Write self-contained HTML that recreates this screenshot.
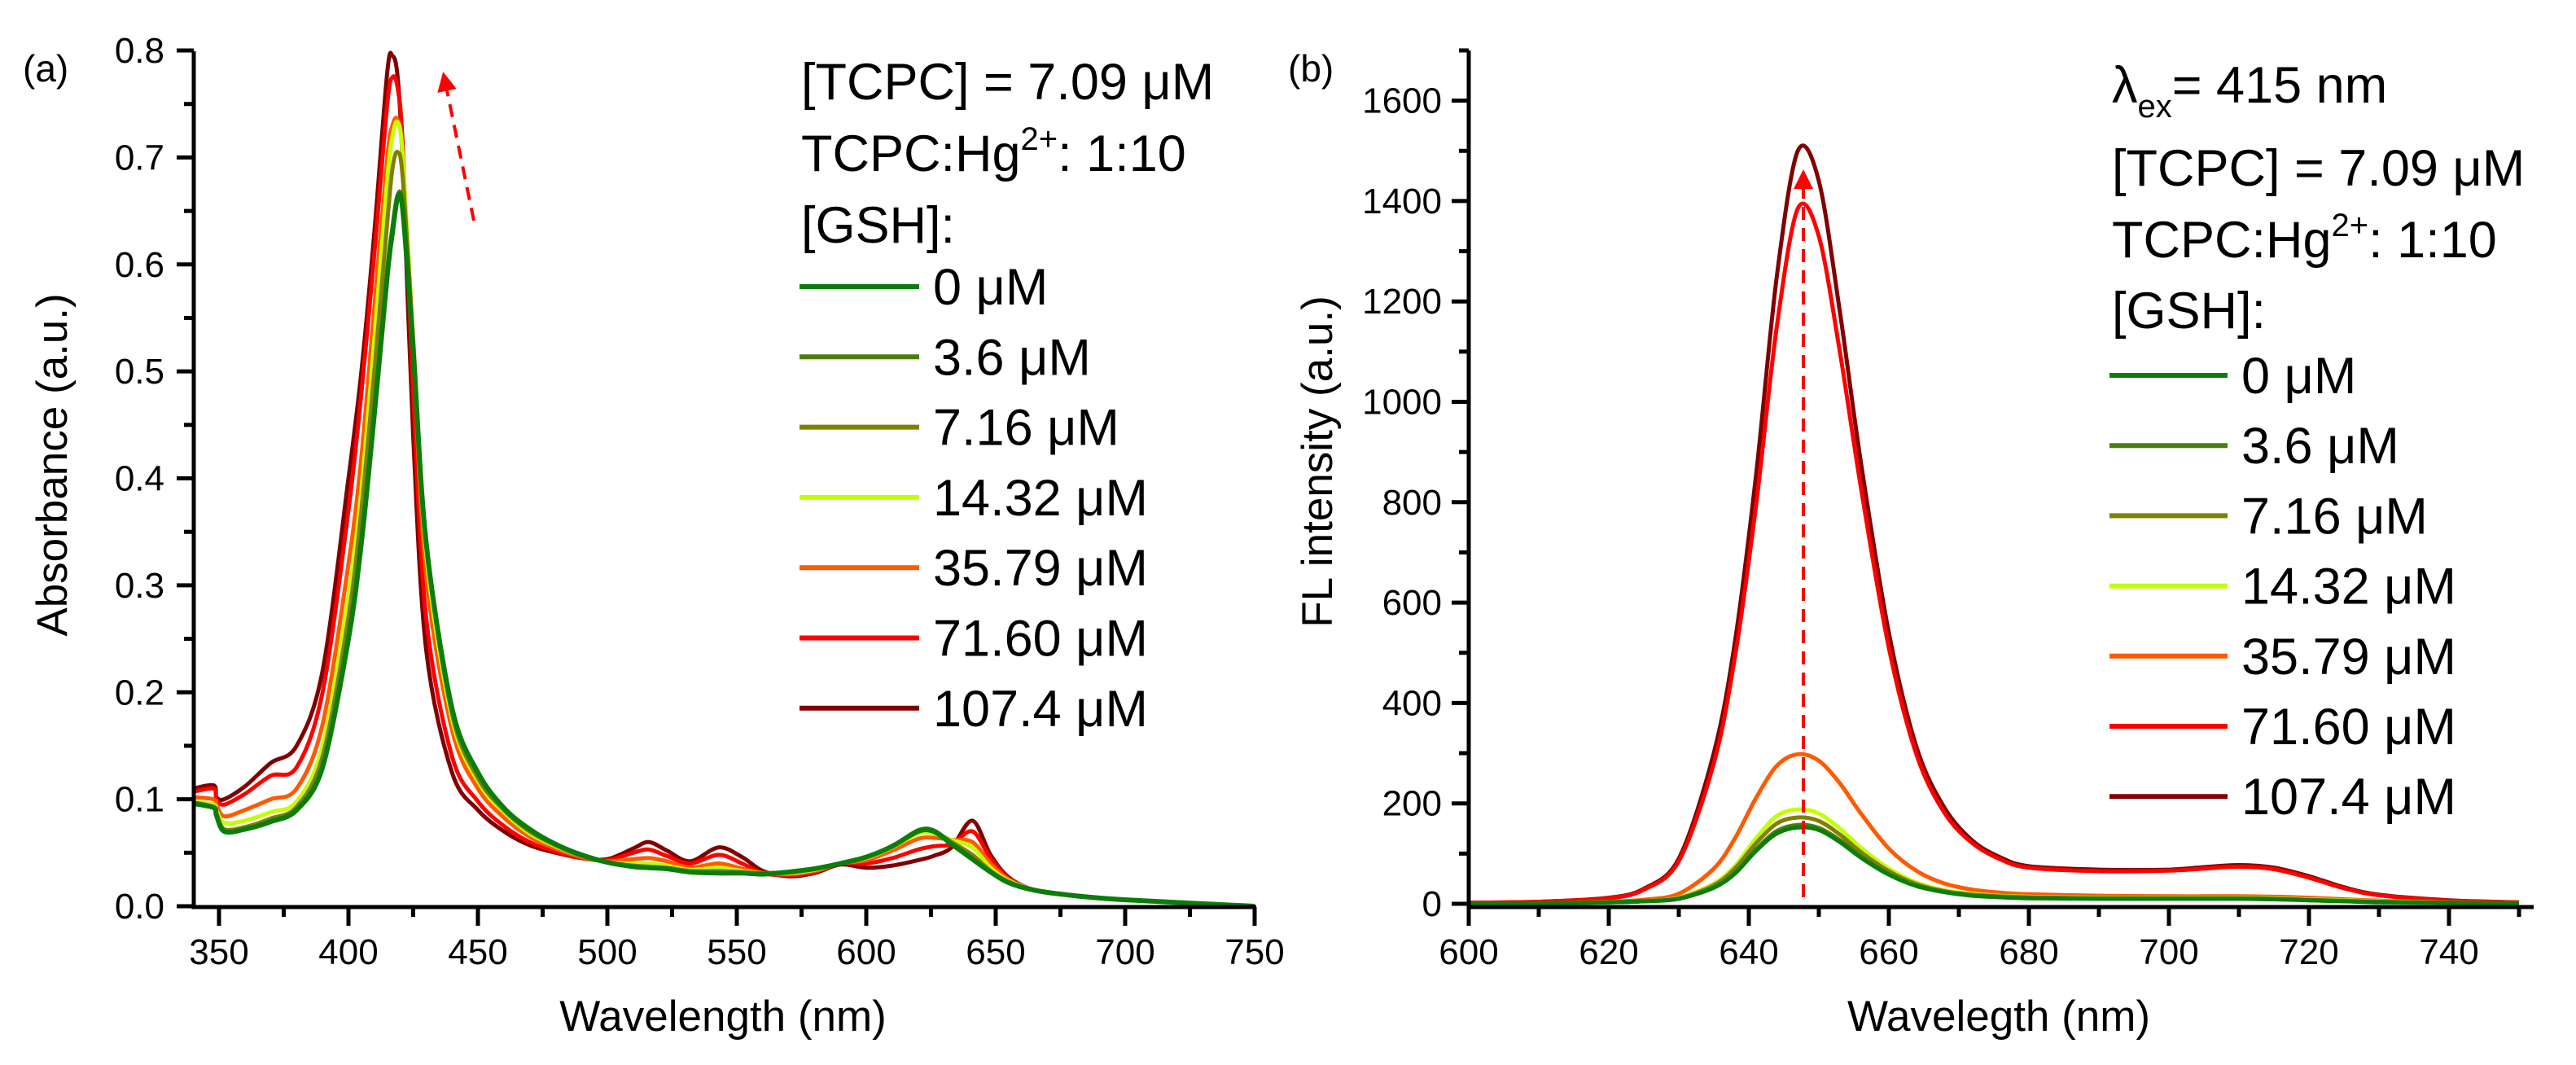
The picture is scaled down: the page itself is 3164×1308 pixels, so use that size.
<!DOCTYPE html>
<html><head><meta charset="utf-8"><style>
html,body{margin:0;padding:0;background:#fff}
svg{display:block}
text{font-family:"Liberation Sans",Arial,sans-serif;fill:#000}
</style></head>
<body>
<svg id="fig" width="3164" height="1308" viewBox="0 0 3164 1308" xmlns="http://www.w3.org/2000/svg">
<defs>
<marker id="ah" markerWidth="6" markerHeight="6" refX="5" refY="3" orient="auto" markerUnits="strokeWidth"><path d="M0,0 L6,3 L0,6 Z" fill="#ff0000"/></marker>
</defs>
<g id="pa"></g>
<g id="pb"></g>
</svg>
<script>
const seriesNames = ["0 μM","3.6 μM","7.16 μM","14.32 μM","35.79 μM","71.60 μM","107.4 μM"];
const seriesColors = ["#0b7d0b","#4a7f0e","#808000","#c4ff00","#ff5a00","#ff0000","#800000"];
const wlA = [340,348,349,352,360,370,380,390,400,405,410,415,417,419,421,425,430,440,450,460,470,480,490,500,510,516,523,532,543,552,560,570,580,590,600,610,620,626,633,641,648,655,665,680,700,750];
const absA0 = [.096,.092,.085,.070,.072,.079,.090,.130,.250,.340,.460,.590,.630,.662,.650,.520,.340,.185,.125,.092,.072,.058,.048,.041,.037,.036,.035,.032,.031,.031,.030,.032,.035,.040,.046,.056,.070,.070,.058,.044,.032,.022,.015,.010,.006,0];
const absA1 = [.096,.092,.085,.070,.072,.080,.091,.132,.255,.345,.465,.595,.635,.665,.652,.522,.340,.184,.124,.091,.071,.058,.048,.041,.037,.036,.035,.032,.031,.031,.030,.032,.035,.040,.046,.056,.071,.071,.059,.045,.032,.022,.015,.010,.006,0];
const absA2 = [.097,.093,.087,.072,.074,.082,.093,.140,.270,.370,.500,.640,.690,.705,.680,.530,.340,.180,.120,.090,.070,.057,.047,.041,.038,.037,.036,.033,.033,.032,.031,.032,.035,.040,.046,.056,.070,.070,.060,.048,.033,.023,.015,.010,.006,0];
const absA3 = [.098,.095,.090,.078,.080,.088,.098,.150,.290,.390,.530,.680,.720,.733,.700,.530,.330,.175,.117,.088,.068,.056,.047,.041,.040,.040,.038,.034,.036,.033,.031,.031,.034,.040,.045,.055,.068,.068,.062,.055,.036,.024,.015,.010,.006,0];
const absA4 = [.102,.100,.095,.084,.090,.100,.110,.170,.320,.420,.560,.700,.730,.735,.700,.520,.310,.165,.110,.083,.065,.054,.046,.042,.044,.045,.042,.036,.040,.035,.031,.030,.033,.040,.043,.052,.063,.064,.062,.060,.040,.025,.015,.010,.006,0];
const absA5 = [.107,.110,.100,.095,.105,.122,.130,.200,.370,.480,.610,.750,.775,.765,.710,.480,.270,.140,.098,.075,.060,.051,.045,.043,.050,.053,.047,.040,.048,.040,.031,.029,.032,.040,.040,.045,.053,.056,.058,.070,.045,.026,.015,.010,.006,0];
const absA6 = [.110,.113,.102,.100,.112,.134,.150,.220,.400,.500,.630,.780,.795,.775,.690,.440,.240,.125,.090,.070,.057,.050,.045,.044,.054,.060,.052,.042,.055,.046,.033,.028,.031,.039,.036,.038,.043,.047,.055,.080,.048,.027,.015,.010,.006,0];
const xTicksA = [350,400,450,500,550,600,650,700,750];
const yTicksA = ["0.0","0.1","0.2","0.3","0.4","0.5","0.6","0.7","0.8"];

const wlB = [600,610,620,625,630,635,638,641,644,647,650,653,656,660,664,668,672,676,680,690,700,705,710,715,720,725,730,740,750];
const flB0 = [0,1,3,5,10,32,60,105,140,152,147,123,92,58,35,23,16,13,11,10,10,10,10,9,7,5,3,2,1];
const flB1 = [0,1,3,5,10,33,62,108,145,157,151,127,95,60,36,24,17,14,12,10,10,10,10,9,7,5,4,2,1];
const flB2 = [0,1,3,5,11,37,70,120,160,172,165,138,103,65,39,25,18,15,13,11,11,11,11,10,8,6,4,2,1];
const flB3 = [0,1,3,5,12,40,75,130,175,188,180,150,112,70,42,27,20,16,14,12,12,12,12,11,9,7,5,2,1];
const flB4 = [0,1,4,8,20,70,130,210,275,298,285,240,180,110,65,40,28,22,19,16,15,15,15,14,12,9,6,3,1];
const flB5 = [2,4,11,28,85,280,490,790,1150,1385,1330,1100,830,510,295,180,120,88,72,65,66,70,74,69,52,31,17,6,3];
const flB6 = [2,4,12,30,90,300,520,850,1250,1500,1440,1180,880,540,310,190,125,92,75,68,68,73,77,72,55,33,18,7,3];
const xTicksB = [600,620,640,660,680,700,720,740];
const yTicksB = ["0","200","400","600","800","1000","1200","1400","1600"];

const NS="http://www.w3.org/2000/svg";
function mk(tag,attrs,parent){const e=document.createElementNS(NS,tag);for(const k in attrs)e.setAttribute(k,attrs[k]);parent.appendChild(e);return e;}
function smooth(pts){let d="M"+pts[0][0].toFixed(1)+","+pts[0][1].toFixed(1);
 for(let i=0;i<pts.length-1;i++){const p0=pts[Math.max(0,i-1)],p1=pts[i],p2=pts[i+1],p3=pts[Math.min(pts.length-1,i+2)];
  const t=0.16;const c1=[p1[0]+(p2[0]-p0[0])*t,p1[1]+(p2[1]-p0[1])*t];const c2=[p2[0]-(p3[0]-p1[0])*t,p2[1]-(p3[1]-p1[1])*t];
  d+=" C"+c1[0].toFixed(1)+","+c1[1].toFixed(1)+" "+c2[0].toFixed(1)+","+c2[1].toFixed(1)+" "+p2[0].toFixed(1)+","+p2[1].toFixed(1);}
 return d;}

// ---------- Panel A ----------
const pa=document.getElementById('pa');
const xA=v=>269+(v-350)*159/50;
const yA=v=>1113-v*1313.7;
const seriesA=[absA0,absA1,absA2,absA3,absA4,absA5,absA6];
for(let s=6;s>=0;s--){
 const p=mk('path',{d:smooth(wlA.map((w,i)=>[xA(w),yA(seriesA[s][i])])),fill:'none',stroke:seriesColors[s],'stroke-width':s===0?6:5,'stroke-linejoin':'round'},pa);
 
 
}
// axes
const axA=mk('path',{d:`M238,63 L238,1114 L1543,1114`,fill:'none',stroke:'#000','stroke-width':5},pa);


for(let v=350;v<=750;v+=25){const maj=v%50===0;mk('line',{x1:xA(v),x2:xA(v),y1:1114,y2:1114+(maj?23:12),stroke:'#000','stroke-width':5},pa);}
xTicksA.forEach(v=>{const t=mk('text',{x:xA(v),y:1184,'font-size':44,'text-anchor':'middle'},pa);t.textContent=v;
 
 });
for(let k=0;k<=16;k++){const v=k*0.05;const maj=k%2===0;mk('line',{x1:238-(maj?21:12),x2:238,y1:yA(v),y2:yA(v),stroke:'#000','stroke-width':5},pa);}
yTicksA.forEach(l=>{const t=mk('text',{x:202,y:yA(parseFloat(l))+15,'font-size':44,'text-anchor':'end'},pa);t.textContent=l;
 
 });
// arrow A
const arA=mk('line',{x1:582,y1:271,x2:545,y2:92,stroke:'#ff0000','stroke-width':4,'stroke-dasharray':'16,10','marker-end':'url(#ah)'},pa);



// ---------- Panel B ----------
const pb=document.getElementById('pb');
const xB=v=>1804+(v-600)*172/20;
const yB=v=>1110-v*123.3/200;
const seriesB=[flB0,flB1,flB2,flB3,flB4,flB5,flB6];
for(let s=6;s>=0;s--){
 const p=mk('path',{d:smooth(wlB.map((w,i)=>[xB(w),yB(seriesB[s][i])])),fill:'none',stroke:seriesColors[s],'stroke-width':5,'stroke-linejoin':'round'},pb);
 
 
}
const axB=mk('path',{d:`M1804,62 L1804,1114 L3112,1114`,fill:'none',stroke:'#000','stroke-width':5},pb);


for(let v=600;v<=750;v+=10){const maj=v%20===0;mk('line',{x1:xB(v),x2:xB(v),y1:1114,y2:1114+(maj?23:12),stroke:'#000','stroke-width':5},pb);}
xTicksB.forEach(v=>{const t=mk('text',{x:xB(v),y:1184,'font-size':44,'text-anchor':'middle'},pb);t.textContent=v;
 
 });
for(let v=0;v<=1700;v+=100){const maj=v%200===0;mk('line',{x1:1804-(maj?21:12),x2:1804,y1:yB(v),y2:yB(v),stroke:'#000','stroke-width':5},pb);}
yTicksB.forEach(l=>{const t=mk('text',{x:1771,y:yB(parseFloat(l))+15,'font-size':44,'text-anchor':'end'},pb);t.textContent=l;
 
 });
const arB=mk('line',{x1:2215,y1:1102,x2:2215,y2:212,stroke:'#ff0000','stroke-width':4,'stroke-dasharray':'16,10','marker-end':'url(#ah)'},pb);



// legends
function legend(parent,lx0,lx1,tx,y0,dy,pfx){
 for(let s=0;s<7;s++){const y=y0+s*dy;
  const l=mk('line',{x1:lx0,x2:lx1,y1:y,y2:y,stroke:seriesColors[s],'stroke-width':6},parent);
  
  
  const t=mk('text',{x:tx,y:y+22,'font-size':63},parent);t.textContent=seriesNames[s];
  
  }
}
legend(pa,982,1129,1146,352,86.3,'a');
legend(pb,2591,2736,2753,461,86.2,'b');
</script>
<svg width="0" height="0"></svg>
<script>
const fig=document.getElementById('fig');
function T(x,y,size,html,name,extra){const t=document.createElementNS("http://www.w3.org/2000/svg",'text');t.setAttribute('x',x);t.setAttribute('y',y);t.setAttribute('font-size',size);
 if(extra)for(const k in extra)t.setAttribute(k,extra[k]);t.innerHTML=html;
 
 
 fig.appendChild(t);return t;}
T(28,100,46,'(a)','panel-a-label');
T(0,100,46,'(b)','panel-b-label',{transform:'translate(1582,0)'});
T(984,122,63,'[TCPC] = 7.09 μM','a-concentration-note');
T(984,210,63,'TCPC:Hg<tspan dy="-26" font-size="40">2+</tspan><tspan dy="26">: 1:10</tspan>','a-ratio-note');
T(984,298,63,'[GSH]:','a-gsh-heading');
T(2594,126,63,'λ<tspan dy="18" font-size="40">ex</tspan><tspan dy="-18">= 415 nm</tspan>','b-excitation-note');
T(2594,228,63,'[TCPC] = 7.09 μM','b-concentration-note');
T(2594,316,63,'TCPC:Hg<tspan dy="-26" font-size="40">2+</tspan><tspan dy="26">: 1:10</tspan>','b-ratio-note');
T(2594,403,63,'[GSH]:','b-gsh-heading');
T(888,1266,53,'Wavelength (nm)','x-axis-title-a',{'text-anchor':'middle'});
T(2455,1266,53,'Wavelegth (nm)','x-axis-title-b',{'text-anchor':'middle'});
T(0,0,53,'Absorbance (a.u.)','y-axis-title-a',{'text-anchor':'middle',transform:'translate(82,571) rotate(-90)'});
T(0,0,53,'FL intensity (a.u.)','y-axis-title-b',{'text-anchor':'middle',transform:'translate(1636,567) rotate(-90)'});
</script>
</body></html>
